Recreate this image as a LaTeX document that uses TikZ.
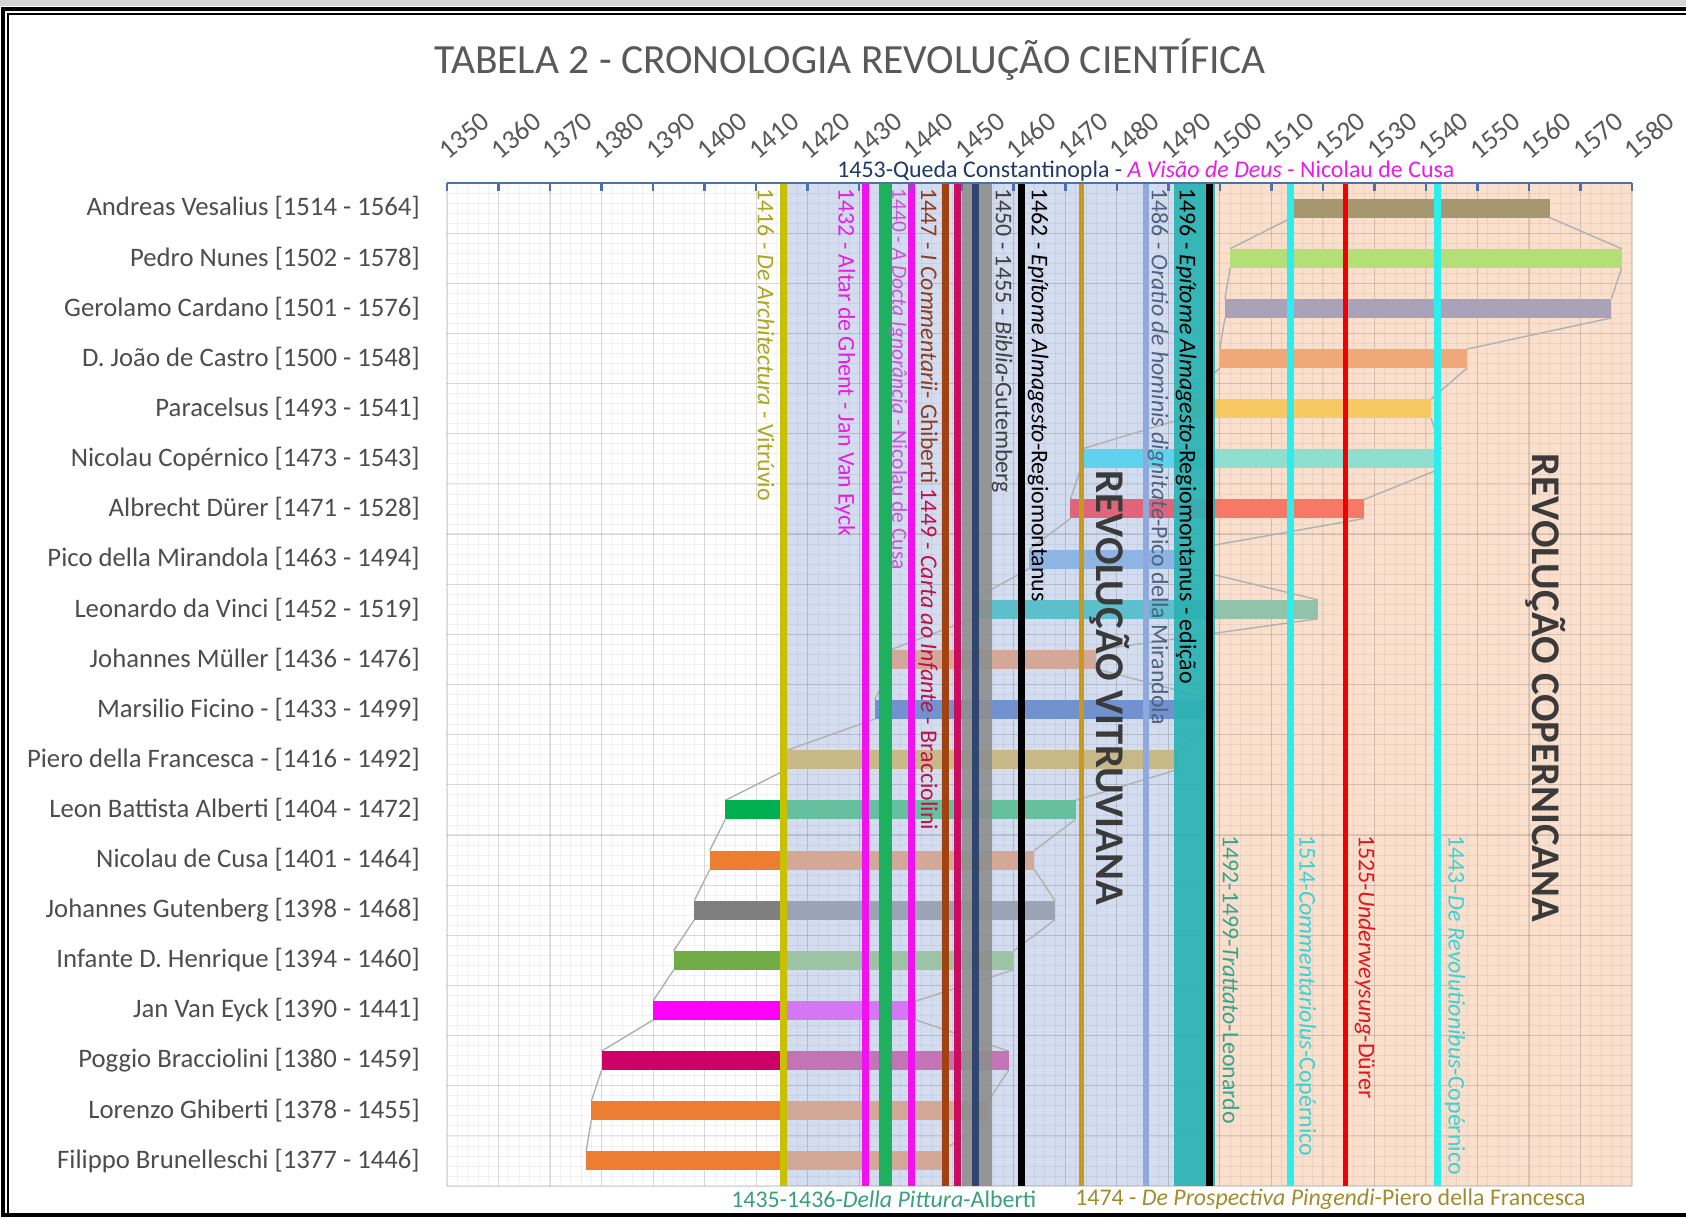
\documentclass[tikz,border=0pt]{standalone}
\usepackage{fontspec}
\setmainfont{Carlito}
\usetikzlibrary{calc}

% text colours
\definecolor{txtGray}{HTML}{4D4D4D}
\definecolor{titleGray}{HTML}{595959}
\definecolor{bigGray}{HTML}{3A3A3A}
\definecolor{axisBlue}{HTML}{4F6FA8}
\definecolor{serGray}{HTML}{B0B0B0}
\definecolor{bgBlue}{HTML}{D3DDEF}
\definecolor{bgPeach}{HTML}{FADFCD}
\definecolor{frameGray}{HTML}{D4D4D4}
% bar colours (white / blue / peach parts)
\definecolor{bVes}{HTML}{A59870}
\definecolor{bNun}{HTML}{B4DF78}
\definecolor{bCar}{HTML}{A9A2B8}
\definecolor{bCas}{HTML}{F0A878}
\definecolor{bParB}{HTML}{F2C86A}
\definecolor{bParP}{HTML}{F8C862}
\definecolor{bCopB}{HTML}{5FD3EE}
\definecolor{bCopP}{HTML}{8EDFCF}
\definecolor{bDurB}{HTML}{E0647A}
\definecolor{bDurP}{HTML}{F87868}
\definecolor{bPico}{HTML}{8DB4E2}
\definecolor{bLeoB}{HTML}{5CBFCB}
\definecolor{bLeoP}{HTML}{90C3A9}
\definecolor{bMul}{HTML}{D4A898}
\definecolor{bFic}{HTML}{7191CF}
\definecolor{bPie}{HTML}{C8B888}
\definecolor{bAlbW}{HTML}{00B050}
\definecolor{bAlbB}{HTML}{66C0A0}
\definecolor{bOraW}{HTML}{ED7D31}
\definecolor{bOraB}{HTML}{D4A896}
\definecolor{bGutW}{HTML}{7F7F7F}
\definecolor{bGutB}{HTML}{9AA4B4}
\definecolor{bHenW}{HTML}{70AD47}
\definecolor{bHenB}{HTML}{9CC4A4}
\definecolor{bEycW}{HTML}{FF00FF}
\definecolor{bEycB}{HTML}{D577F5}
\definecolor{bBraW}{HTML}{CC0066}
\definecolor{bBraB}{HTML}{C274B4}
% event lines and their labels
\definecolor{lnOlive}{HTML}{C8C000}
\definecolor{txOlive}{HTML}{ADA61B}
\definecolor{lnMag}{HTML}{F010F0}
\definecolor{txMag}{HTML}{E81CE8}
\definecolor{txDocta}{HTML}{C852D8}
\definecolor{lnGreen}{HTML}{1DB05E}
\definecolor{lnBrown}{HTML}{A3420E}
\definecolor{txBrown}{HTML}{8E3B1E}
\definecolor{lnCrim}{HTML}{CC0A5E}
\definecolor{txCrim}{HTML}{C01048}
\definecolor{lnBible}{HTML}{8E8E8E}
\definecolor{txBible}{HTML}{404040}
\definecolor{lnNavy}{HTML}{2E4670}
\definecolor{txNavy}{HTML}{1F3A68}
\definecolor{lnOchre}{HTML}{C99A1A}
\definecolor{txOchre}{HTML}{A48A2E}
\definecolor{lnSteel}{HTML}{8EA9DB}
\definecolor{txSteel}{HTML}{4F6182}
\definecolor{lnTeal}{HTML}{2AB3B3}
\definecolor{txTeal}{HTML}{35A58C}
\definecolor{lnCyan}{HTML}{2EEDED}
\definecolor{txCyan}{HTML}{39D3D6}
\definecolor{lnRed}{HTML}{F00000}
\definecolor{txRed}{HTML}{E0161E}
\definecolor{txPitt}{HTML}{3A9F7A}

\newcommand{\yx}[1]{447+((#1)-1350)*5.1522}

\begin{document}
\begin{tikzpicture}[x=0.025cm, y=-0.025cm,
    rowlbl/.style={anchor=east, inner sep=0pt, text=txtGray, font=\fontsize{19}{22}\selectfont},
    yrlbl/.style={anchor=south west, rotate=40, inner sep=0pt, text=titleGray, font=\fontsize{19.5}{22}\selectfont},
    evt/.style={anchor=west, rotate=-90, inner sep=0pt, font=\fontsize{17}{20}\selectfont},
    btm/.style={anchor=west, inner sep=0pt, font=\fontsize{17}{20}\selectfont},
    bigrev/.style={rotate=-90, inner sep=0pt, text=bigGray, font=\fontsize{29}{34}\selectfont\bfseries},
    gridmin/.style={black, opacity=0.05, line width=0.5pt},
    gridmaj/.style={black, opacity=0.10, line width=0.8pt},
    serieln/.style={draw=serGray, line width=1pt},
    axisln/.style={draw=axisBlue, line width=1.8pt},
    vline/.style={line width=5pt},
]
    \useasboundingbox (0,0) rectangle (1686,1218);
    \fill[white] (0,0) rectangle (1686,1218);
    \fill[frameGray] (0,0) rectangle (1686,6);
    \draw[line width=2.2pt] (1686,9) -- (3,9) -- (3,1215) -- (1686,1215);
    \draw[line width=0.9pt] (1686,14) -- (8,14) -- (8,1213);

    \node[text=titleGray, font=\fontsize{29.5}{34}\selectfont] (title) at (850,60) {TABELA 2 - CRONOLOGIA REVOLUÇÃO CIENTÍFICA};

    % regions
    \fill[bgBlue] ({\yx{1415.4}},183) rectangle ({\yx{1499.1}},1186);
    \fill[bgPeach] ({\yx{1499.1}},183) rectangle (1632,1186);

    % grid
    \foreach \k in {0,2,...,230}
        \draw[gridmin] ({\yx{1350+\k}},183) -- ({\yx{1350+\k}},1186);
    \foreach \k in {0,...,100}
        \draw[gridmin] (447,{183+\k*10.03}) -- (1632,{183+\k*10.03});
    \foreach \k in {0,10,...,230}
        \draw[gridmaj] ({\yx{1350+\k}},183) -- ({\yx{1350+\k}},1186);
    \foreach \k in {0,...,20}
        \draw[gridmaj] (447,{183+\k*50.15}) -- (1632,{183+\k*50.15});

    % rows: label, series lines, bar
    \foreach \nm/\s/\e/\cw/\cb/\cp [count=\i, remember=\s as \ps (initially 0), remember=\e as \pe (initially 0)] in {
        Andreas Vesalius [1514 - 1564]/1514/1564/bVes/bVes/bVes,
        Pedro Nunes [1502 - 1578]/1502/1578/bNun/bNun/bNun,
        Gerolamo Cardano [1501 - 1576]/1501/1576/bCar/bCar/bCar,
        D. João de Castro [1500 - 1548]/1500/1548/bCas/bCas/bCas,
        Paracelsus [1493 - 1541]/1493/1541/bParB/bParB/bParP,
        Nicolau Copérnico [1473 - 1543]/1473/1543/bCopB/bCopB/bCopP,
        Albrecht Dürer [1471 - 1528]/1471/1528/bDurB/bDurB/bDurP,
        Pico della Mirandola [1463 - 1494]/1463/1494/bPico/bPico/bPico,
        Leonardo da Vinci [1452 - 1519]/1452/1519/bLeoB/bLeoB/bLeoP,
        Johannes Müller [1436 - 1476]/1436/1476/bMul/bMul/bMul,
        Marsilio Ficino - [1433 - 1499]/1433/1499/bFic/bFic/bFic,
        Piero della Francesca - [1416 - 1492]/1416/1492/bPie/bPie/bPie,
        Leon Battista Alberti [1404 - 1472]/1404/1472/bAlbW/bAlbB/bAlbB,
        Nicolau de Cusa [1401 - 1464]/1401/1464/bOraW/bOraB/bOraB,
        Johannes Gutenberg [1398 - 1468]/1398/1468/bGutW/bGutB/bGutB,
        Infante D. Henrique [1394 - 1460]/1394/1460/bHenW/bHenB/bHenB,
        Jan Van Eyck [1390 - 1441]/1390/1441/bEycW/bEycB/bEycB,
        Poggio Bracciolini [1380 - 1459]/1380/1459/bBraW/bBraB/bBraB,
        Lorenzo Ghiberti [1378 - 1455]/1378/1455/bOraW/bOraB/bOraB,
        Filippo Brunelleschi [1377 - 1446]/1377/1446/bOraW/bOraB/bOraB}{
        \pgfmathsetmacro\yc{183+(\i-0.5)*50.15}
        \node[rowlbl] (row\i) at (420,\yc) {\nm};
        \ifnum\i>1
            \draw[serieln] ({\yx{\ps}},{\yc-40.65}) -- ({\yx{\s}},{\yc-9.5});
            \draw[serieln] ({\yx{\pe}},{\yc-40.65}) -- ({\yx{\e}},{\yc-9.5});
        \fi
        \begin{scope}
            \clip (447,183) rectangle ({\yx{1415.4}},1186);
            \fill[\cw] ({\yx{\s}},{\yc-9.5}) rectangle ({\yx{\e}},{\yc+9.5});
        \end{scope}
        \begin{scope}
            \clip ({\yx{1415.4}},183) rectangle ({\yx{1499.1}},1186);
            \fill[\cb] ({\yx{\s}},{\yc-9.5}) rectangle ({\yx{\e}},{\yc+9.5});
        \end{scope}
        \begin{scope}
            \clip ({\yx{1499.1}},183) rectangle (1632,1186);
            \fill[\cp] ({\yx{\s}},{\yc-9.5}) rectangle ({\yx{\e}},{\yc+9.5});
        \end{scope}
    }

    % event lines and bands
    \fill[lnBible, opacity=0.9] ({\yx{1450.0}},183) rectangle ({\yx{1455.8}},1186);
    \fill[lnTeal, opacity=0.92] ({\yx{1491.1}},183) rectangle ({\yx{1499.1}},1186);
    \fill[lnGreen] ({\yx{1433.9}},183) rectangle ({\yx{1436.4}},1186);
    \foreach \y/\c/\w in {1415.4/lnOlive/5pt, 1431.3/lnMag/5pt, 1440.2/lnMag/5pt,
        1446.7/lnBrown/5pt, 1449.0/lnCrim/5pt, 1452.6/lnNavy/5pt, 1461.5/black/4.5pt,
        1473.2/lnOchre/3.8pt, 1485.7/lnSteel/4.3pt, 1497.9/black/5pt,
        1513.8/lnCyan/5pt, 1524.4/lnRed/3.8pt, 1542.3/lnCyan/5pt}
        \draw[vline, \c, line width=\w] ({\yx{\y}},183) -- ({\yx{\y}},1186);

    % axis
    \draw[axisln] (447,183) -- (1632,183);
    \foreach \k in {0,...,23}{
        \pgfmathtruncatemacro\yl{1350+10*\k}
        \draw[axisln] ({\yx{\yl}},183) -- ++(0,8);
        \node[yrlbl] (yr\k) at ({\yx{\yl}+2},161) {\yl};
    }

    % event labels
    \node[evt, text=txOlive] (tVitru) at (766,188) {1416 - \textit{De Architectura} - Vitrúvio};
    \node[evt, text=txMag] (tEyck) at (845,188) {1432 - Altar de Ghent - Jan Van Eyck};
    \node[evt, text=txDocta, font=\fontsize{15.3}{18}\selectfont] (tDocta) at (898,188) {1440 - \textit{A Docta Ignorância} - Nicolau de Cusa};
    \node[evt] (tGhib) at (928,188) {\color{txBrown}1447 - \textit{I Commentarii}- Ghiberti \color{txCrim}1449 - \textit{Carta ao Infante} - Bracciolini};
    \node[evt, text=txBible] (tBiblia) at (1002,188) {1450 - 1455 - \textit{Biblia}-Gutemberg};
    \node[evt, text=black] (tEpit) at (1038,188) {1462 - \textit{Epítome Almagesto}-Regiomontanus};
    \node[evt, text=txSteel] (tOratio) at (1158,188) {1486 - \textit{Oratio de hominis dignitate}-Pico della Mirandola};
    \node[evt, text=black] (tEdic) at (1186,188) {1496 - \textit{Epítome Almagesto}-Regiomontanus - edição};
    \node[evt, text=txTeal] (tTrat) at (1231,835) {1492-1499-\textit{Trattato}-Leonardo};
    \node[evt, text=txCyan] (tComm) at (1306,835) {1514-\textit{Commentariolus}-Copérnico};
    \node[evt, text=txRed] (tUnder) at (1365,835) {1525-\textit{Underweysung}-Dürer};
    \node[evt, text=txCyan] (tRevol) at (1455,835) {1443--\textit{De Revolutionibus}-Copérnico};

    \node[btm] (tQueda) at (837,171) {\color{txNavy}1453-Queda Constantinopla - \color{txMag}\textit{A Visão de Deus} - Nicolau de Cusa};
    \node[btm, text=txPitt] (tPitt) at (731,1199) {1435-1436-\textit{Della Pittura}-Alberti};
    \node[btm, text=txOchre] (tProsp) at (1075,1199) {1474 - \textit{De Prospectiva Pingendi}-Piero della Francesca};

    \node[bigrev] (revVit) at (1110,688) {REVOLUÇÃO VITRUVIANA};
    \node[bigrev] (revCop) at (1546,688) {REVOLUÇÃO COPERNICANA};
\end{tikzpicture}
\end{document}
